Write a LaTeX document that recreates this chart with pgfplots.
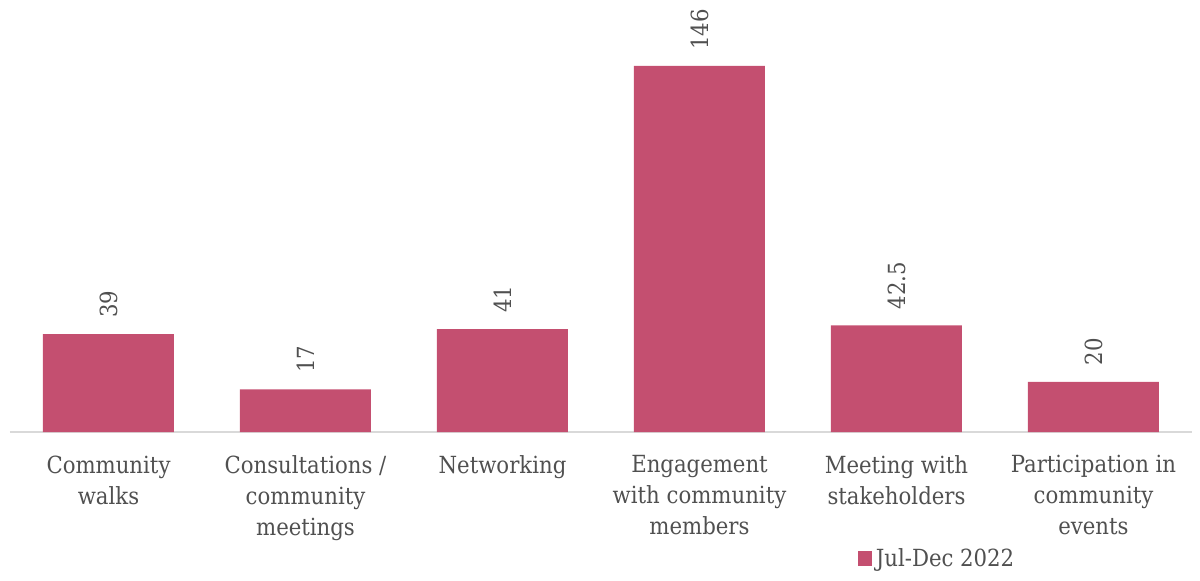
\documentclass[border=0pt]{standalone}
\usepackage{fontspec}
\setmainfont{DejaVu Serif Condensed}
\usepackage{pgfplots}
\pgfplotsset{compat=1.18}
\definecolor{barc}{HTML}{C44F70}
\definecolor{txt}{HTML}{505050}
\definecolor{axc}{HTML}{D9D9D9}
\begin{document}
\begin{tikzpicture}
\useasboundingbox (0,0) rectangle (600pt,290pt);
\begin{axis}[
  at={(5pt,74pt)}, anchor=south west,
  scale only axis, width=591pt, height=216pt,
  ybar, bar width=65.5pt,
  xmin=-0.5, xmax=5.5, ymin=0, ymax=172.3,
  axis y line=none, axis x line*=bottom,
  x axis line style={axc, line width=0.8pt, -},
  xtick=data, xtick style={draw=none},
  xticklabels={{Community\\walks},{Consultations /\\community\\meetings},{Networking},{Engagement\\with community\\members},{Meeting with\\stakeholders},{Participation in\\community\\events}},
  xticklabel style={align=center, font=\fontsize{11.8}{15.5}\selectfont, text=txt, anchor=north, yshift=-4pt},
  nodes near coords,
  nodes near coords style={rotate=90, anchor=west, inner xsep=8pt, font=\fontsize{11.8}{12}\selectfont, text=txt},
  point meta=explicit symbolic,
  legend style={at={(rel axis cs:0.717,-0.294)}, anchor=west, draw=none, font=\fontsize{11.8}{12}\selectfont, text=txt, inner sep=0pt, legend cell align=left},
  legend image code/.code={\fill[barc] (0cm,-3.5pt) rectangle (7pt,4pt);},
]
\addplot[fill=barc, draw=none] coordinates {(0,39) [39] (1,17) [17] (2,41) [41] (3,146) [146] (4,42.5) [42.5] (5,20) [20]};
\addlegendentry{Jul-Dec 2022}
\end{axis}
\end{tikzpicture}
\end{document}
